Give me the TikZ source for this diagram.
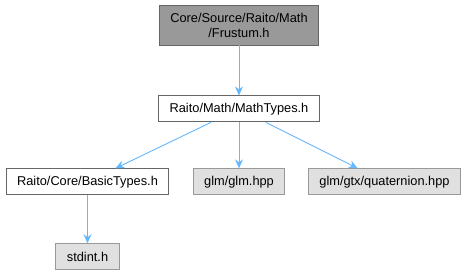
\documentclass[tikz,border=0pt]{standalone}
\usepackage{fontspec}
\setmainfont{Liberation Sans}
\usetikzlibrary{positioning,arrows.meta}
\definecolor{edgeblue}{HTML}{63B8FF}
\definecolor{boxline}{HTML}{666666}
\definecolor{extline}{HTML}{999999}
\definecolor{extfill}{HTML}{E0E0E0}
\begin{document}
\begin{tikzpicture}[
    x=1pt, y=-1pt,
    node distance=46pt,
    filenode/.style={rectangle, draw=boxline, fill=white, line width=0.9pt, inner xsep=11pt, inner ysep=0pt, minimum height=26pt, font=\fontsize{12.8}{15}\selectfont, align=center},
    extnode/.style={filenode, draw=extline, fill=extfill},
    dep/.style={-{Stealth[length=9pt, width=8pt]}, line width=0.9pt, edgeblue}
]
    \useasboundingbox (0,0) rectangle (466,272);

    % Nodes
    \node[filenode, fill=extline, draw=boxline, minimum height=40pt] (F) at (239,25) {Core/Source/Raito/Math\\/Frustum.h};
    \node[filenode, below=50pt of F] (MT) {Raito/Math/MathTypes.h};
    \node[extnode, below=of MT] (GLM) {glm/glm.hpp};
    \node[filenode, below=of MT, xshift=-151.5pt] (BT) {Raito/Core/BasicTypes.h};
    \node[extnode, below=of MT, xshift=145.5pt] (QT) {glm/gtx/quaternion.hpp};
    \node[extnode, below=48pt of BT] (SI) {stdint.h};

    % Edges
    \draw[dep] (F) -- (MT);
    \draw[dep] (MT) -- (BT);
    \draw[dep] (MT) -- (GLM);
    \draw[dep] (MT) -- (QT);
    \draw[dep] (BT) -- (SI);

\end{tikzpicture}
\end{document}
